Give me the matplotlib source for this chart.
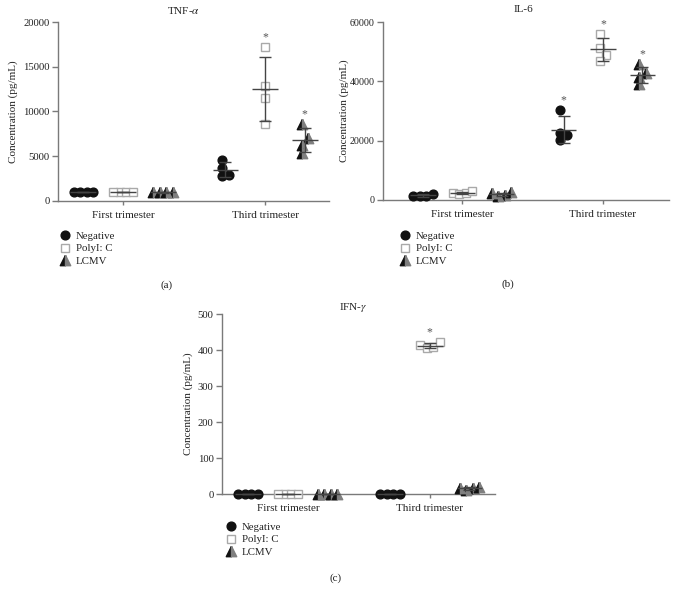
import numpy as np
import matplotlib
matplotlib.use('Agg')
import matplotlib.pyplot as plt
from matplotlib.lines import Line2D
from matplotlib.legend_handler import HandlerTuple

plt.rcParams['font.family'] = ['Liberation Serif', 'DejaVu Serif']
plt.rcParams['mathtext.fontset'] = 'stix'

# ---------------- data ----------------
trimesters = ['First trimester', 'Third trimester']
groups = ['Negative', 'PolyI: C', 'LCMV']

# TNF-alpha (pg/mL): [Negative, PolyI:C, LCMV]
tnf_first = [[1000, 1000, 1000, 1000], [950, 950, 950, 950], [1000, 950, 1000, 950]]
tnf_third = [[3700, 4550, 2800, 2950], [17200, 12900, 11500, 8600], [8600, 7000, 6300, 5400]]
tnf_stars_third = [False, True, True]

# IL-6 (pg/mL)
il6_first = [[1500, 1200, 1400, 2100], [2500, 2000, 2300, 2900], [1700, 1500, 2200, 2600]]
il6_third = [[30300, 22700, 21800, 20200], [55900, 51400, 48900, 46900], [45700, 42700, 41500, 39100]]
il6_stars_third = [True, True, True]

# IFN-gamma (pg/mL)
ifn_first = [[0, 0, 0, 0], [0, 0, 0, 0], [0, 0, 0, 0]]
ifn_third = [[0, 0, 0, 0], [414, 405, 408, 421], [16, 10, 18, 20]]
ifn_stars_third = [False, True, False]

# ---------------- styles ----------------
W, H = 676, 601
BLACK = '#111111'
TRI_GRAY = '#7f7f7f'
SQ_GRAY = '#a9a9a9'
ERR = '#444444'
SPINE = '#7a7a7a'
TXT = '#222222'
LEFT_TRI = [(0, 1), (-1, -1), (0, -1), (0, 1)]
RIGHT_TRI = [(0, 1), (1, -1), (0, -1), (0, 1)]
GROUP_OFF = [-0.28, 0.0, 0.28]
CIRC_MS, SQ_MS, TRI_MS = 6.3, 6.0, 7.5

fig = plt.figure(figsize=(W / 100, H / 100), dpi=100)


def px_rect(left, top, right, bottom):
    return [left / W, 1 - bottom / H, (right - left) / W, (bottom - top) / H]


def swarm(vals, ax_h_px, ylim, step=6.5, mind=6.4):
    ys = [(v - ylim[0]) / (ylim[1] - ylim[0]) * ax_h_px for v in vals]
    order = np.argsort(ys)
    placed = []
    offs = [0.0] * len(vals)
    cands = [0.0]
    for k in range(1, 10):
        cands += [k * step, -k * step]
    for i in order:
        for c in cands:
            if all((c - po) ** 2 + (ys[i] - py) ** 2 >= mind ** 2 for po, py in placed):
                offs[i] = c
                placed.append((c, ys[i]))
                break
    offs = np.array(offs)
    offs -= (offs.max() + offs.min()) / 2
    return offs


def draw_group(ax, xc, vals, g, ax_w_px, ax_h_px, xlim, ylim):
    offs_px = swarm(vals, ax_h_px, ylim)
    xs = xc + offs_px / ax_w_px * (xlim[1] - xlim[0])
    if g == 0:
        ax.plot(xs, vals, 'o', ms=CIRC_MS, color=BLACK, mec=BLACK, clip_on=False, zorder=3)
    elif g == 1:
        ax.plot(xs, vals, 's', ms=SQ_MS, mfc='white', mec=SQ_GRAY, mew=1.0, clip_on=False, zorder=3)
    else:
        for xi, vi in zip(xs, vals):
            ax.plot([xi], [vi], marker=LEFT_TRI, ms=TRI_MS, color=BLACK, ls='', clip_on=False, zorder=3)
            ax.plot([xi], [vi], marker=RIGHT_TRI, ms=TRI_MS, color=TRI_GRAY, ls='', clip_on=False, zorder=3)
    m = np.mean(vals)
    sd = np.std(vals, ddof=1)
    ax.errorbar([xc], [m], yerr=[sd], fmt='none', ecolor=ERR, elinewidth=1.0,
                capsize=4.2, capthick=1.0, zorder=4, clip_on=False)
    ax.hlines(m, xc - 0.09, xc + 0.09, color=ERR, lw=1.0, zorder=4, clip_on=False)


def panel(rect_px, xlim, ylim, yticks, first, third, stars, title, title_xy, ylabel_x,
          legend_xy, caption, caption_xy, ytick_fs=7.7):
    ax = fig.add_axes(px_rect(*rect_px))
    ax_w_px = rect_px[2] - rect_px[0]
    ax_h_px = rect_px[3] - rect_px[1]
    ax.set_xlim(*xlim)
    ax.set_ylim(*ylim)
    for ti, data in enumerate([first, third]):
        for g in range(3):
            xc = 1 + ti + GROUP_OFF[g]
            draw_group(ax, xc, data[g], g, ax_w_px, ax_h_px, xlim, ylim)
            if ti == 1 and stars[g]:
                ax.annotate('*', xy=(xc, max(data[g])), xytext=(0, 3), textcoords='offset points',
                            ha='center', va='bottom', fontsize=8.5, color='#555555')
    for s in ['top', 'right']:
        ax.spines[s].set_visible(False)
    for s in ['left', 'bottom']:
        ax.spines[s].set_color(SPINE)
        ax.spines[s].set_linewidth(1.0)
    ax.set_xticks([1, 2])
    ax.set_xticklabels(trimesters, fontsize=8, color=TXT)
    ax.set_yticks(yticks)
    ax.set_yticklabels([str(t) for t in yticks], fontsize=ytick_fs, color=TXT)
    ax.tick_params(axis='y', length=4, width=1.0, color=SPINE, pad=2)
    ax.tick_params(axis='x', length=3, width=1.0, color=SPINE, pad=4)
    fig.text(title_xy[0] / W, 1 - title_xy[1] / H, title, ha='center', va='center',
             fontsize=8, color=TXT)
    fig.text(ylabel_x / W, 1 - (rect_px[1] + rect_px[3]) / 2 / H, 'Concentration (pg/mL)',
             rotation=90, ha='center', va='center', fontsize=8, color=TXT)
    h_neg = Line2D([], [], marker='o', ms=CIRC_MS, color=BLACK, ls='')
    h_pol = Line2D([], [], marker='s', ms=SQ_MS, mfc='white', mec=SQ_GRAY, mew=1.0, ls='')
    h_l1 = Line2D([], [], marker=LEFT_TRI, ms=TRI_MS, color=BLACK, ls='')
    h_l2 = Line2D([], [], marker=RIGHT_TRI, ms=TRI_MS, color=TRI_GRAY, ls='')
    leg = ax.legend([h_neg, h_pol, (h_l1, h_l2)], groups,
                    handler_map={tuple: HandlerTuple(ndivide=1)},
                    loc='upper left', bbox_to_anchor=(legend_xy[0] / W, 1 - legend_xy[1] / H),
                    bbox_transform=fig.transFigure, frameon=False, fontsize=7.8,
                    borderpad=0, borderaxespad=0, handlelength=1.0, handletextpad=0.45,
                    labelspacing=0.3)
    for t in leg.get_texts():
        t.set_color(TXT)
    fig.text(caption_xy[0] / W, 1 - caption_xy[1] / H, caption, ha='center', va='center',
             fontsize=8, color=TXT)
    return ax


panel((58, 22, 329, 201), (0.542, 2.45), (0, 20000), [0, 5000, 10000, 15000, 20000],
      tnf_first, tnf_third, tnf_stars_third, 'TNF-$\\alpha$', (183, 10), 13,
      (60, 231), '(a)', (167, 285))
panel((383, 22, 669, 200), (0.436, 2.47), (0, 60000), [0, 20000, 40000, 60000],
      il6_first, il6_third, il6_stars_third, 'IL-6', (523, 10), 344,
      (400, 231), '(b)', (508, 284), ytick_fs=7.2)
panel((222, 314, 495, 494), (0.535, 2.46), (0, 500), [0, 100, 200, 300, 400, 500],
      ifn_first, ifn_third, ifn_stars_third, 'IFN-$\\gamma$', (353, 307), 188,
      (226, 522), '(c)', (336, 578))

fig.savefig('out.png', dpi=100)
